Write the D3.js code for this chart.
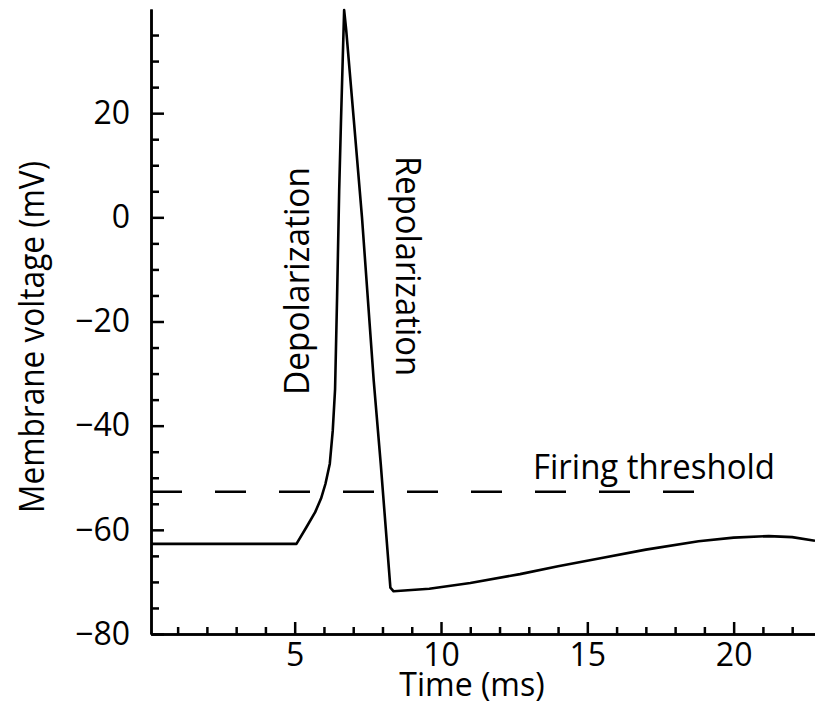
<!DOCTYPE html>
<html>
<head>
<meta charset="UTF-8">
<title>Action potential</title>
<script src="https://d3js.org/d3.v7.min.js"></script>
<style>
html, body { margin: 0; padding: 0; background: #fff; }
svg { display: block; font-family: "Open Sans", sans-serif; }
.axis path, .axis line { stroke: #000; stroke-width: 2.5; }
.axis text { font-family: "Open Sans", sans-serif; font-size: 32px; fill: #000; }
</style>
</head>
<body>
<script>
// time (ms) and membrane voltage (mV)
var times = [0.09, 5.06, 5.4, 5.7, 5.9, 6.05, 6.2, 6.3, 6.38, 6.45, 6.52, 6.58, 6.64, 6.69,
             6.76, 7.02, 7.3, 7.7, 7.94, 8.27, 8.38, 9.6, 11, 12.7, 14, 15.4, 17, 18.8, 20, 21.2, 22, 22.78];
var volts = [-62.7, -62.7, -59.5, -56.6, -54, -51.2, -47.3, -41, -33, -15, 5, 18, 30, 39.8,
             36, 18.7, 0, -31.3, -47.3, -71.1, -71.8, -71.3, -70.2, -68.5, -67, -65.5, -63.8, -62.2, -61.5, -61.2, -61.4, -62.1];

var threshold = -52.7;
var thresholdEnd = 18.67;

var xMajor = [5, 10, 15, 20];
var yMajor = [-80, -60, -40, -20, 0, 20];

var width = 815, height = 724;

var svg = d3.select("body").append("svg")
    .attr("width", width)
    .attr("height", height);

var x = d3.scaleLinear().domain([0.09, 22.78]).range([151, 815]);
var y = d3.scaleLinear().domain([-80, 40]).range([634, 9]);

// minor ticks
var xMinor = d3.range(1, 23).filter(function (d) { return xMajor.indexOf(d) < 0; });
var yMinor = d3.range(-75, 40, 5).filter(function (d) { return yMajor.indexOf(d) < 0; });

svg.append("g")
    .attr("class", "axis")
    .attr("transform", "translate(0,634)")
    .call(d3.axisTop(x).tickValues(xMinor).tickSize(7).tickFormat("").tickSizeOuter(0));

var xAxis = svg.append("g")
    .attr("class", "axis")
    .attr("transform", "translate(0,634)")
    .call(d3.axisBottom(x).tickValues(xMajor).tickSizeInner(-12).tickSizeOuter(0));
xAxis.selectAll("text").attr("dy", "0.71em").attr("y", 9);

svg.append("g")
    .attr("class", "axis")
    .attr("transform", "translate(151,0)")
    .call(d3.axisRight(y).tickValues(yMinor).tickSize(8).tickFormat("").tickSizeOuter(0));

var yAxis = svg.append("g")
    .attr("class", "axis")
    .attr("transform", "translate(151,0)")
    .call(d3.axisLeft(y).tickValues(yMajor).tickSizeInner(-13).tickSizeOuter(0)
        .tickFormat(function (d) { return d < 0 ? "\u2212" + Math.abs(d) : d; }));
yAxis.selectAll("text").attr("x", -21);

// axis titles
svg.append("text")
    .attr("x", 472).attr("y", 696)
    .attr("text-anchor", "middle")
    .attr("font-size", 32)
    .text("Time (ms)");

svg.append("text")
    .attr("transform", "translate(44,337) rotate(-90)")
    .attr("text-anchor", "middle")
    .attr("font-size", 34)
    .attr("textLength", 352)
    .attr("lengthAdjust", "spacingAndGlyphs")
    .text("Membrane voltage (mV)");

// threshold
svg.append("line")
    .attr("x1", x(0.09)).attr("x2", x(thresholdEnd))
    .attr("y1", y(threshold)).attr("y2", y(threshold))
    .attr("stroke", "#000")
    .attr("stroke-width", 2.5)
    .attr("stroke-dasharray", "31,33");

svg.append("text")
    .attr("x", 533).attr("y", 479)
    .attr("font-size", 34)
    .attr("textLength", 242)
    .attr("lengthAdjust", "spacingAndGlyphs")
    .text("Firing threshold");

// the trace
var line = d3.line()
    .x(function (d, i) { return x(times[i]); })
    .y(function (d) { return y(d); });

svg.append("path")
    .attr("d", line(volts))
    .attr("fill", "none")
    .attr("stroke", "#000")
    .attr("stroke-width", 2.6)
    .attr("stroke-linejoin", "round");

svg.append("text")
    .attr("transform", "translate(309,281) rotate(-90)")
    .attr("text-anchor", "middle")
    .attr("font-size", 35)
    .attr("textLength", 228)
    .attr("lengthAdjust", "spacingAndGlyphs")
    .text("Depolarization");

svg.append("text")
    .attr("transform", "translate(396,266) rotate(90)")
    .attr("text-anchor", "middle")
    .attr("font-size", 35)
    .attr("textLength", 220)
    .attr("lengthAdjust", "spacingAndGlyphs")
    .text("Repolarization");
</script>
</body>
</html>
